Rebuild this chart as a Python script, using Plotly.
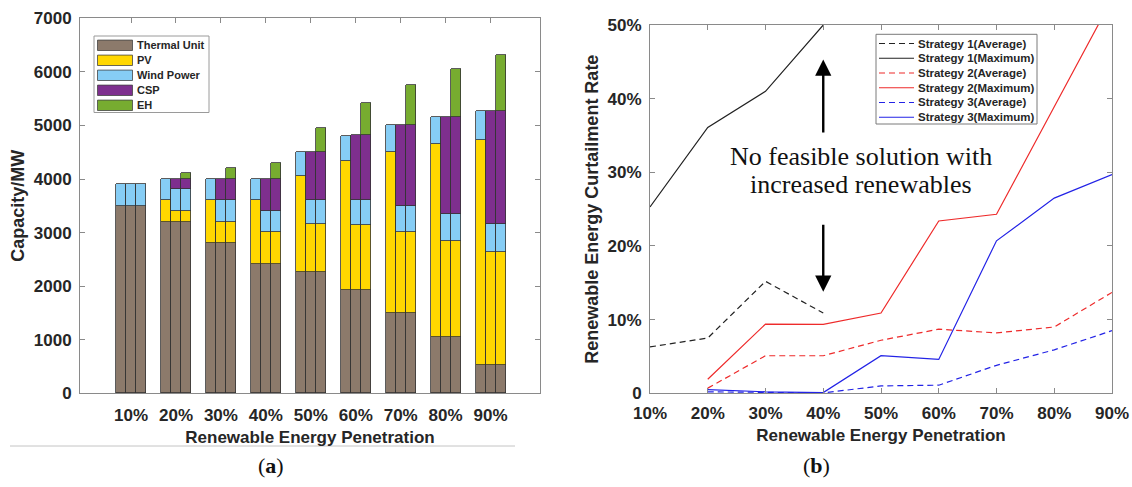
import plotly.graph_objects as go

W, H = 1132, 487

# ---- data -------------------------------------------------------------
categories = ['10%', '20%', '30%', '40%', '50%', '60%', '70%', '80%', '90%']
penetration = [10, 20, 30, 40, 50, 60, 70, 80, 90]

# installed capacity (MW), one bar per strategy in each group
thermal = [3500, 3200, 2800, 2400, 2250, 1930, 1500, 1040, 530]

pv_s1 = [0, 400, 800, 1200, 1800, 2400, 3000, 3600, 4200]
wind_s1 = [400, 400, 400, 400, 450, 470, 500, 510, 540]
csp_s1 = [0, 0, 0, 0, 0, 0, 0, 0, 0]
eh_s1 = [0, 0, 0, 0, 0, 0, 0, 0, 0]

pv_s2 = [0, 200, 400, 600, 900, 1200, 1500, 1800, 2100]
wind_s2 = [400, 400, 400, 400, 450, 480, 500, 510, 530]
csp_s2 = [0, 200, 400, 600, 900, 1200, 1500, 1800, 2100]
eh_s2 = [0, 0, 0, 0, 0, 0, 0, 0, 0]

pv_s3 = [0, 200, 400, 600, 900, 1200, 1500, 1800, 2100]
wind_s3 = [400, 400, 400, 400, 450, 480, 500, 510, 530]
csp_s3 = [0, 200, 400, 600, 900, 1200, 1500, 1800, 2100]
eh_s3 = [0, 100, 200, 300, 450, 600, 750, 900, 1050]

# renewable energy curtailment rate (%)
s1_avg = [6.3, 7.5, 15.2, 10.9, None, None, None, None, None]
s1_max = [25.3, 36.1, 41.0, 50.0, None, None, None, None, None]
s2_avg = [None, 0.7, 5.1, 5.1, 7.2, 8.7, 8.2, 9.0, 13.7]
s2_max = [None, 1.9, 9.4, 9.35, 10.9, 23.4, 24.3, 38.9, 53.5]
s3_avg = [None, 0.2, 0.1, 0.05, 1.0, 1.1, 3.8, 5.9, 8.5]
s3_max = [None, 0.5, 0.2, 0.1, 5.1, 4.6, 20.7, 26.5, 29.7]

y_ticks_rate = [0, 10, 20, 30, 40, 50]
y_ticktext_rate = ['0', '10%', '20%', '30%', '40%', '50%']

# ---- styling ----------------------------------------------------------
SANS = 'Liberation Sans, Arial, sans-serif'
SERIF = 'Liberation Serif, Times New Roman, serif'
TXT = '#262626'
AXC = '#8a8a8a'

comp_colors = {
    'Thermal Unit': '#8C7A6B',
    'PV': '#FFD700',
    'Wind Power': '#86CDF5',
    'CSP': '#7E2F8E',
    'EH': '#77AC30',
}

fig = go.Figure()

# ---- (a) grouped stacked bars ------------------------------------------
bar_w = 0.223
offsets = [-bar_w, 0.0, bar_w]
strategies = [
    {'Thermal Unit': thermal, 'PV': pv_s1, 'Wind Power': wind_s1, 'CSP': csp_s1, 'EH': eh_s1},
    {'Thermal Unit': thermal, 'PV': pv_s2, 'Wind Power': wind_s2, 'CSP': csp_s2, 'EH': eh_s2},
    {'Thermal Unit': thermal, 'PV': pv_s3, 'Wind Power': wind_s3, 'CSP': csp_s3, 'EH': eh_s3},
]

for comp, color in comp_colors.items():
    xs, ys = [], []
    for off, strat in zip(offsets, strategies):
        for i, v in enumerate(strat[comp]):
            xs.append(i + 1 + off)
            ys.append(v if v else None)
    fig.add_trace(go.Bar(
        x=xs, y=ys, width=bar_w, name=comp,
        marker=dict(color=color, line=dict(color='#333333', width=0.8)),
        xaxis='x', yaxis='y', showlegend=False,
    ))

# ---- (b) curtailment lines ---------------------------------------------
line_series = [
    ('Strategy 1(Average)', s1_avg, '#222222', '6px,4px'),
    ('Strategy 1(Maximum)', s1_max, '#222222', 'solid'),
    ('Strategy 2(Average)', s2_avg, '#ee2b2b', '6px,4px'),
    ('Strategy 2(Maximum)', s2_max, '#ee2b2b', 'solid'),
    ('Strategy 3(Average)', s3_avg, '#2323e6', '6px,4px'),
    ('Strategy 3(Maximum)', s3_max, '#2323e6', 'solid'),
]
for name, vals, color, dash in line_series:
    fig.add_trace(go.Scatter(
        x=penetration, y=vals, mode='lines', name=name,
        line=dict(color=color, width=1.2, dash=dash),
        xaxis='x2', yaxis='y2', showlegend=False,
    ))


def fx(x):
    return x / W


def fy(y):
    return 1 - y / H


axis_common = dict(
    showline=True, linecolor=AXC, linewidth=1, mirror='ticks', automargin=False,
    ticks='inside', ticklen=5, tickcolor=AXC, showgrid=False, zeroline=False,
    tickfont=dict(family=SANS, size=17, color=TXT, weight='bold'),
)
title_font = dict(family=SANS, size=17, color=TXT, weight='bold')

fig.update_layout(
    width=W, height=H, margin=dict(l=0, r=0, t=0, b=0, pad=0, autoexpand=False),
    paper_bgcolor='white', plot_bgcolor='white',
    barmode='stack', bargap=0,
    xaxis=dict(
        axis_common, domain=[fx(80), fx(540)], range=[-0.136, 10.1],
        tickvals=list(range(1, 10)), ticktext=categories, layer='below traces',
        ticklabelstandoff=6, anchor='y',
        title=dict(text='Renewable Energy Penetration', font=title_font, standoff=7),
    ),
    yaxis=dict(
        axis_common, domain=[fy(393.3), fy(18.3)], range=[0, 7000], dtick=1000,
        ticklabelstandoff=4, anchor='x',
        title=dict(text='Capacity/MW', font=dict(title_font, size=18), standoff=4),
    ),
    xaxis2=dict(
        axis_common, domain=[fx(650), fx(1112)], range=[10, 90],
        tickvals=penetration, ticktext=categories, ticklabelstandoff=4, anchor='y2',
        title=dict(text='Renewable Energy Penetration', font=title_font, standoff=7),
    ),
    yaxis2=dict(
        axis_common, domain=[fy(393.3), fy(25)], range=[0, 50],
        tickvals=y_ticks_rate, ticktext=y_ticktext_rate, ticklabelstandoff=4, anchor='x2',
        title=dict(text='Renewable Energy Curtailment Rate', font=dict(title_font, size=18), standoff=4),
    ),
)

shapes = []
annotations = []

# legend for (a)
shapes.append(dict(type='rect', xref='paper', yref='paper',
                   x0=fx(94), x1=fx(209), y0=fy(112.5), y1=fy(36),
                   line=dict(color='#9a9a9a', width=1), fillcolor='white'))
for k, (comp, color) in enumerate(comp_colors.items()):
    yc = 45.3 + 15 * k
    shapes.append(dict(type='rect', xref='paper', yref='paper',
                       x0=fx(97.5), x1=fx(132.5), y0=fy(yc + 5.2), y1=fy(yc - 5.2),
                       line=dict(color='#444444', width=0.8), fillcolor=color))
    annotations.append(dict(xref='paper', yref='paper', x=fx(135), y=fy(yc),
                            xanchor='left', yanchor='middle', showarrow=False,
                            text=comp, font=dict(family=SANS, size=11, color=TXT, weight='bold')))

# legend for (b)
shapes.append(dict(type='rect', xref='paper', yref='paper',
                   x0=fx(876), x1=fx(1037), y0=fy(124), y1=fy(34.3),
                   line=dict(color='#7a7a7a', width=1), fillcolor='white', layer='above'))
for k, (name, vals, color, dash) in enumerate(line_series):
    yc = 43.5 + 14.75 * k
    shapes.append(dict(type='line', xref='paper', yref='paper',
                       x0=fx(879), x1=fx(914), y0=fy(yc), y1=fy(yc),
                       line=dict(color=color, width=1.2, dash=dash)))
    annotations.append(dict(xref='paper', yref='paper', x=fx(916), y=fy(yc),
                            xanchor='left', yanchor='middle', showarrow=False,
                            text=name, font=dict(family=SANS, size=11.5, color=TXT, weight='bold')))

# infeasibility note with arrows
note_font = dict(family=SERIF, size=26, color='#111111')
annotations.append(dict(xref='x2', yref='y2', x=46.6, y=32.2, showarrow=False,
                        text='No feasible solution with', font=note_font))
annotations.append(dict(xref='x2', yref='y2', x=46.6, y=28.3, showarrow=False,
                        text='increased renewables', font=note_font))
annotations.append(dict(xref='x2', yref='y2', axref='x2', ayref='y2',
                        x=40, y=45.3, ax=40, ay=35.2, text='', showarrow=True,
                        arrowhead=2, arrowsize=1.35, arrowwidth=2.4, arrowcolor='#000000'))
annotations.append(dict(xref='x2', yref='y2', axref='x2', ayref='y2',
                        x=40, y=13.8, ax=40, ay=23.1, text='', showarrow=True,
                        arrowhead=2, arrowsize=1.35, arrowwidth=2.4, arrowcolor='#000000'))

# panel labels and separator
shapes.append(dict(type='line', xref='paper', yref='paper',
                   x0=fx(10), x1=fx(515), y0=fy(446), y1=fy(446),
                   line=dict(color='#c4c4c4', width=1)))
annotations.append(dict(xref='paper', yref='paper', x=fx(256), y=fy(480),
                        showarrow=False, text='(<b>a</b>)',
                        font=dict(family=SERIF, size=22, color='#111111')))
annotations.append(dict(xref='paper', yref='paper', x=fx(832), y=fy(480),
                        showarrow=False, text='(<b>b</b>)',
                        font=dict(family=SERIF, size=22, color='#111111')))

fig.update_layout(shapes=shapes, annotations=annotations)

fig.write_html('out.html')
